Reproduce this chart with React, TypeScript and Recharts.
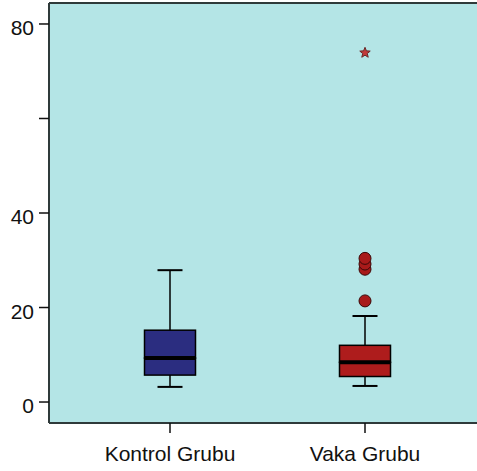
import { ComposedChart, Bar, Cell, Line, XAxis, YAxis, CartesianGrid, ReferenceLine } from 'recharts';

// box plot summary per group
const groups = ['Kontrol Grubu', 'Vaka Grubu'];
const whiskerLow = [3.2, 3.4];
const q1 = [5.7, 5.4];
const median = [9.3, 8.4];
const q3 = [15.2, 12.0];
const whiskerHigh = [27.9, 18.2];
const outliers = [[], [21.4, 28.1, 29.2, 30.4]];
const extremes = [[], [73.9]];
const yTicks = [0, 20, 40, 60, 80];
const yLabels = ['0', '20', '40', '', '80'];

const COLORS = {
  bg: '#b4e5e6',
  frame: '#2f3a3a',
  boxes: ['#2b2d80', '#ae1c1c'],
  outlier: '#a81a1a',
  extreme: '#c23a3a',
};

const FONT = '"Liberation Sans", Arial, sans-serif';
const Y_DOMAIN: [number, number] = [-4.44, 84.44];

const rows = groups.map((group, i) => {
  const row: Record<string, any> = {
    group,
    base: whiskerLow[i],
    lowW: q1[i] - whiskerLow[i],
    lowBox: median[i] - q1[i],
    highBox: q3[i] - median[i],
    highW: whiskerHigh[i] - q3[i],
  };
  outliers[1].forEach((_, k) => {
    row['o' + k] = outliers[i][k] ?? null;
  });
  extremes[1].forEach((_, k) => {
    row['e' + k] = extremes[i][k] ?? null;
  });
  return row;
});

function LowWhisker(props: any) {
  const { x, y, width, height } = props;
  const cx = x + width / 2;
  const bottom = y + height;
  return (
    <g>
      <line x1={cx} x2={cx} y1={y} y2={bottom} stroke="#000" strokeWidth={1.5} />
      <line x1={cx - 12.5} x2={cx + 12.5} y1={bottom} y2={bottom} stroke="#000" strokeWidth={2} />
    </g>
  );
}

function HighWhisker(props: any) {
  const { x, y, width, height } = props;
  const cx = x + width / 2;
  return (
    <g>
      <line x1={cx} x2={cx} y1={y} y2={y + height} stroke="#000" strokeWidth={1.5} />
      <line x1={cx - 12.5} x2={cx + 12.5} y1={y} y2={y} stroke="#000" strokeWidth={2} />
    </g>
  );
}

function LowBox(props: any) {
  const { x, y, width, height, fill } = props;
  return <rect x={x} y={y} width={width} height={height} fill={fill} stroke="#000" strokeWidth={1.5} />;
}

function HighBox(props: any) {
  const { x, y, width, height, fill } = props;
  return (
    <g>
      <rect x={x} y={y} width={width} height={height} fill={fill} stroke="#000" strokeWidth={1.5} />
      <line x1={x} x2={x + width} y1={y + height} y2={y + height} stroke="#000" strokeWidth={4} />
    </g>
  );
}

function OutlierDot(props: any) {
  const { cx, cy, value, index } = props;
  if (cy == null || value == null) return <g key={'od' + index} />;
  return <circle key={'od' + index} cx={cx} cy={cy} r={6} fill={COLORS.outlier} stroke="#3a0808" strokeWidth={1} />;
}

function ExtremeDot(props: any) {
  const { cx, cy, value, index } = props;
  if (cy == null || value == null) return <g key={'ed' + index} />;
  const pts: string[] = [];
  for (let k = 0; k < 10; k++) {
    const r = k % 2 === 0 ? 5.5 : 2.4;
    const a = -Math.PI / 2 + (k * Math.PI) / 5;
    pts.push(`${cx + r * Math.cos(a)},${cy + r * Math.sin(a)}`);
  }
  return <polygon key={'ed' + index} points={pts.join(' ')} fill={COLORS.extreme} stroke="#6a2a2a" strokeWidth={1} />;
}

function YTick(props: any) {
  const { x, y, payload, index } = props;
  return (
    <text x={x} y={y + 4} dy="0.355em" textAnchor="end" fontSize={21} fontFamily={FONT} fill="#111">
      {yLabels[index] ?? String(payload.value)}
    </text>
  );
}

export default function App() {
  return (
    <div style={{ width: 477, height: 471, overflow: 'hidden' }}>
      <style>{'body{margin:0;background:#fff;overflow:hidden}'}</style>
      <ComposedChart width={483} height={471} data={rows} margin={{ top: 3, right: 0, bottom: 0, left: 0 }}>
        <CartesianGrid fill={COLORS.bg} stroke="none" horizontal={false} vertical={false} />
        <XAxis
          dataKey="group"
          type="category"
          height={48}
          padding={{ left: 23.5, right: 20.5 }}
          tickSize={10}
          tickMargin={13}
          axisLine={{ stroke: COLORS.frame, strokeWidth: 2 }}
          tickLine={{ stroke: '#111', strokeWidth: 1.5 }}
          tick={{ fontSize: 21, fontFamily: FONT, fill: '#111' }}
        />
        <YAxis
          type="number"
          width={49}
          domain={Y_DOMAIN}
          allowDataOverflow
          ticks={yTicks}
          interval={0}
          tickSize={10}
          tickMargin={5}
          axisLine={{ stroke: COLORS.frame, strokeWidth: 2 }}
          tickLine={{ stroke: '#111', strokeWidth: 1.5 }}
          tick={YTick}
        />
        <ReferenceLine y={Y_DOMAIN[1]} stroke={COLORS.frame} strokeWidth={2} ifOverflow="visible" />
        <Bar dataKey="base" stackId="box" fill="none" barSize={51} isAnimationActive={false} />
        <Bar dataKey="lowW" stackId="box" barSize={51} shape={LowWhisker} isAnimationActive={false} />
        <Bar dataKey="lowBox" stackId="box" barSize={51} shape={LowBox} isAnimationActive={false}>
          {rows.map((r, i) => (
            <Cell key={r.group} fill={COLORS.boxes[i]} />
          ))}
        </Bar>
        <Bar dataKey="highBox" stackId="box" barSize={51} shape={HighBox} isAnimationActive={false}>
          {rows.map((r, i) => (
            <Cell key={r.group} fill={COLORS.boxes[i]} />
          ))}
        </Bar>
        <Bar dataKey="highW" stackId="box" barSize={51} shape={HighWhisker} isAnimationActive={false} />
        {outliers[1].map((_, k) => (
          <Line
            key={'o' + k}
            dataKey={'o' + k}
            stroke="none"
            dot={OutlierDot}
            activeDot={false}
            isAnimationActive={false}
          />
        ))}
        {extremes[1].map((_, k) => (
          <Line
            key={'e' + k}
            dataKey={'e' + k}
            stroke="none"
            dot={ExtremeDot}
            activeDot={false}
            isAnimationActive={false}
          />
        ))}
      </ComposedChart>
    </div>
  );
}
